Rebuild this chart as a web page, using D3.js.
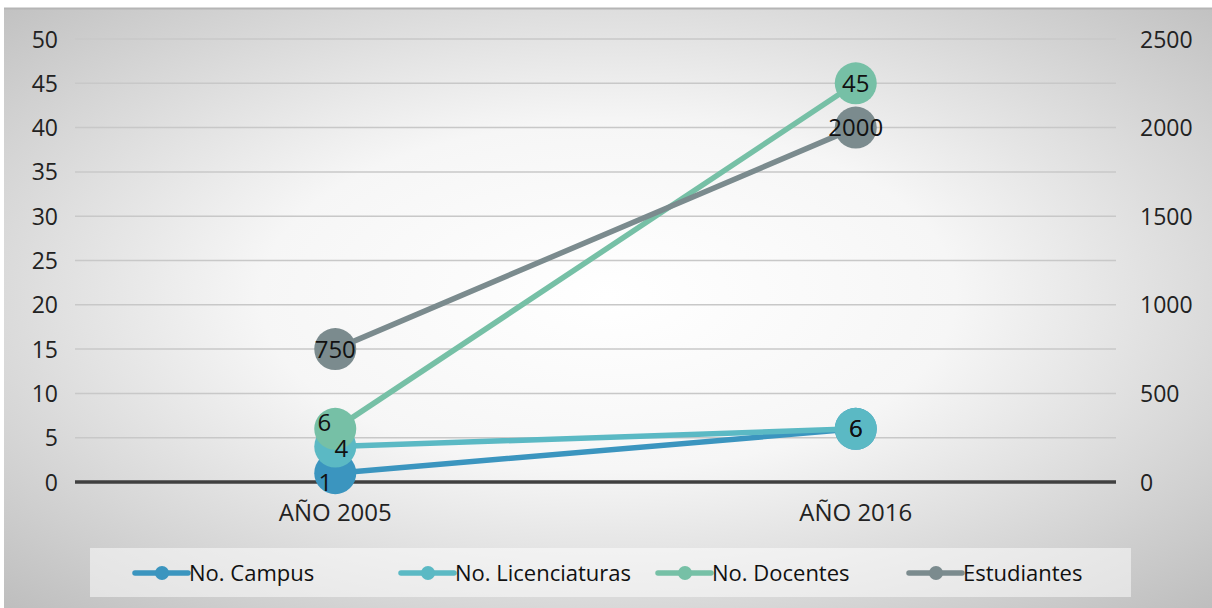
<!DOCTYPE html>
<html><head><meta charset="utf-8">
<script src="https://cdn.jsdelivr.net/npm/d3@7"></script>
<style>body{margin:0;background:#fff}svg{display:block}text{font-family:"Open Sans",sans-serif}</style>
</head><body>
<svg id="c" width="1212" height="608"></svg>
<script>
const categories = ["AÑO 2005", "AÑO 2016"];
const seriesNames = ["No. Campus", "No. Licenciaturas", "No. Docentes", "Estudiantes"];
const campus = [1, 6];
const licenciaturas = [4, 6];
const docentes = [6, 45];
const estudiantes = [750, 2000];
const leftTicks = [0, 5, 10, 15, 20, 25, 30, 35, 40, 45, 50];
const rightTicks = [0, 500, 1000, 1500, 2000, 2500];
const colors = ["#3b95bf", "#5bb9c4", "#76c0a6", "#7b8b8e"];

(function(){
const svg = d3.select("#c");
const W = 1212, H = 608;
const defs = svg.append("defs");
const rg = defs.append("radialGradient").attr("id","bg").attr("cx","50%").attr("cy","48%").attr("r","72%");
rg.append("stop").attr("offset","0%").attr("stop-color","#ffffff");
rg.append("stop").attr("offset","40%").attr("stop-color","#f6f6f6");
rg.append("stop").attr("offset","100%").attr("stop-color","#bebebe");
svg.append("rect").attr("x",4).attr("y",8).attr("width",W-4).attr("height",H-8).attr("fill","url(#bg)");
svg.append("line").attr("x1",4).attr("x2",W).attr("y1",8.5).attr("y2",8.5).attr("stroke","#b5b5b5").attr("stroke-width",2);

const pL = 75, pR = 1116, pT = 39, pB = 482;
const x = d3.scaleBand().domain(categories).range([pL, pR]);
const yL = d3.scaleLinear().domain([0, 50]).range([pB, pT]);
const yR = d3.scaleLinear().domain([0, 2500]).range([pB, pT]);
const FS = 23;

svg.append("g").selectAll("line").data(leftTicks.filter(d=>d>0)).join("line")
  .attr("x1",pL).attr("x2",pR).attr("y1",d=>yL(d)).attr("y2",d=>yL(d))
  .attr("stroke","#c8c8c8").attr("stroke-width",1.5);

const la = svg.append("g").attr("transform",`translate(${pL-17},0)`)
  .call(d3.axisLeft(yL).tickValues(leftTicks).tickSize(0).tickPadding(0));
la.select(".domain").remove();
la.selectAll("text").attr("font-size",FS).attr("fill","#222").attr("text-anchor","end").attr("dy","0.35em")
  .attr("font-family","Open Sans, sans-serif").attr("x",0);

const ra = svg.append("g").attr("transform",`translate(${pR+24},0)`)
  .call(d3.axisRight(yR).tickValues(rightTicks).tickFormat(d3.format("d")).tickSize(0).tickPadding(0));
ra.select(".domain").remove();
ra.selectAll("text").attr("font-size",FS).attr("fill","#222").attr("dy","0.35em")
  .attr("font-family","Open Sans, sans-serif");

svg.append("line").attr("x1",pL).attr("x2",pR).attr("y1",yL(0)).attr("y2",yL(0))
  .attr("stroke","#404040").attr("stroke-width",3.5);

const ca = svg.append("g").attr("transform",`translate(0,${pB+22})`)
  .call(d3.axisBottom(x).tickSize(0).tickPadding(0));
ca.select(".domain").remove();
ca.selectAll("text").attr("font-size",FS+1).attr("fill","#222").attr("dy","0.71em")
  .attr("font-family","Open Sans, sans-serif");

const series = [
  {name: seriesNames[0], vals: campus, scale: yL, color: colors[0]},
  {name: seriesNames[1], vals: licenciaturas, scale: yL, color: colors[1]},
  {name: seriesNames[2], vals: docentes, scale: yL, color: colors[2]},
  {name: seriesNames[3], vals: estudiantes, scale: yR, color: colors[3]}
];
const cx = c => x(c) + x.bandwidth()/2;

series.forEach(s => {
  const g = svg.append("g");
  const line = d3.line().x((d,i)=>cx(categories[i])).y(d=>s.scale(d));
  g.append("path").datum(s.vals).attr("d",line).attr("fill","none")
    .attr("stroke",s.color).attr("stroke-width",5.5).attr("stroke-linecap","round");
  g.selectAll("circle").data(s.vals).join("circle")
    .attr("cx",(d,i)=>cx(categories[i])).attr("cy",d=>s.scale(d)).attr("r",21)
    .attr("fill",s.color);
});
// label nudges for overlapping labels in the first category
const nudge = {"0-0":[-10,9], "1-0":[6,2], "2-0":[-11,-6]};
series.forEach((s,si) => {
  svg.append("g").selectAll("text").data(s.vals).join("text")
    .attr("x",(d,i)=>cx(categories[i]) + ((nudge[si+"-"+i]||[0,0])[0]))
    .attr("y",(d,i)=>s.scale(d) + ((nudge[si+"-"+i]||[0,0])[1]))
    .attr("dy","0.36em").attr("text-anchor","middle").attr("font-size",FS+1).attr("fill","#111")
    .text(d=>d);
});

const lg = svg.append("g");
lg.append("rect").attr("x",90).attr("y",548).attr("width",1041).attr("height",49)
  .attr("fill","#ffffff").attr("fill-opacity",0.5);
const lx = [135, 401, 658, 909];
series.forEach((s,i) => {
  const gx = lx[i], gy = 573;
  lg.append("line").attr("x1",gx).attr("x2",gx+53).attr("y1",gy).attr("y2",gy)
    .attr("stroke",s.color).attr("stroke-width",5.5).attr("stroke-linecap","round");
  lg.append("circle").attr("cx",gx+27).attr("cy",gy).attr("r",7).attr("fill",s.color);
  lg.append("text").attr("x",gx+54).attr("y",gy).attr("dy","0.36em").attr("font-size",22)
    .attr("fill","#111").text(s.name);
});
})();
</script>
</body></html>
